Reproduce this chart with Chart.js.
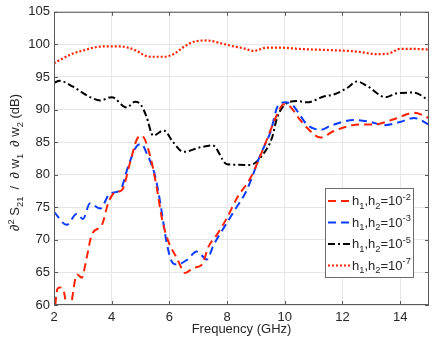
<!DOCTYPE html>
<html>
<head>
<meta charset="utf-8">
<script src="https://cdn.jsdelivr.net/npm/chart.js@4.4.1/dist/chart.umd.min.js"></script>
<style>
  html, body { margin: 0; padding: 0; background: #fff; }
  #wrap { width: 436px; height: 337px; }
</style>
</head>
<body>
<div id="wrap"><canvas id="sensChart" width="436" height="337"></canvas></div>
<script>
// tick values
const xTicks = [2, 4, 6, 8, 10, 12, 14];
const yTicks = [60, 65, 70, 75, 80, 85, 90, 95, 100, 105];

// h1,h2 = 1e-2 (red dashed)
const freqA = [2, 2.12, 2.2, 2.32, 2.5, 2.8, 2.96, 3.13, 3.31, 3.66, 3.89, 4.12, 4.35, 4.64, 4.87, 5.04, 5.33, 5.57, 5.74, 5.97, 6.26, 6.55, 6.84, 7.13, 7.36, 7.65, 8.0, 8.34, 8.8, 9.09, 9.38, 9.73, 9.96, 10.2, 10.48, 10.77, 11.24, 11.7, 12.16, 12.63, 13.09, 13.78, 14.48, 15];
const valsA = [58, 62.5, 62.7, 62.4, 58.5, 64.7, 64.2, 67.2, 70.8, 72.3, 75.8, 77.3, 77.6, 81.9, 85.4, 86.0, 82.9, 77.8, 73.3, 69.7, 67.2, 64.9, 65.7, 66.2, 69.0, 70.8, 73.4, 76.4, 79.4, 82.2, 85.4, 89.2, 90.8, 90.4, 88.7, 87.2, 85.7, 86.7, 87.4, 87.7, 87.7, 88.5, 89.5, 88.7];

// h1,h2 = 1e-3 (blue dashed)
const freqB = [2, 2.44, 2.79, 3.0, 3.25, 3.6, 3.94, 4.29, 4.58, 4.87, 5.04, 5.2, 5.5, 5.68, 5.9, 6.08, 6.26, 6.6, 6.95, 7.3, 7.53, 7.88, 8.23, 8.7, 9.15, 9.5, 9.79, 10.02, 10.25, 10.43, 10.77, 11.24, 11.58, 11.93, 12.39, 12.97, 13.43, 14.0, 14.48, 15];
const valsB = [74.3, 72.3, 74.0, 73.2, 75.6, 74.8, 77.1, 77.6, 81.4, 84.4, 84.7, 83.4, 79.9, 75.8, 69.7, 66.7, 66.2, 66.9, 68.2, 67.0, 69.2, 71.8, 74.3, 77.8, 83.0, 86.5, 90.8, 91.1, 90.8, 89.8, 87.7, 86.9, 87.5, 88.0, 88.4, 88.1, 87.6, 88.1, 88.7, 87.7];

// h1,h2 = 1e-5 (black dash-dot)
const freqC = [2, 2.2, 2.66, 3.25, 3.6, 4.0, 4.52, 4.81, 5.0, 5.2, 5.44, 5.8, 6.13, 6.48, 7.07, 7.5, 8.0, 8.8, 9.26, 9.56, 9.73, 10.02, 10.43, 10.77, 11.35, 11.7, 12.16, 12.5, 12.86, 13.5, 13.9, 14.47, 15];
const valsC = [94.1, 94.4, 93.5, 91.9, 91.4, 91.9, 90.3, 91.2, 90.8, 89.0, 86.0, 86.8, 85.0, 83.5, 84.2, 84.5, 81.6, 81.5, 83.2, 85.7, 88.7, 90.8, 91.3, 91.1, 92.0, 92.3, 93.3, 94.3, 93.6, 91.9, 92.5, 92.6, 91.4];

// h1,h2 = 1e-7 (red dotted)
const freqD = [2, 2.2, 2.66, 3.13, 3.48, 4.0, 4.3, 4.64, 4.87, 5.1, 5.33, 5.8, 6.14, 6.49, 6.84, 7.3, 7.76, 8.22, 8.57, 8.92, 9.38, 9.85, 10.5, 11.7, 12.5, 13.2, 13.6, 14.0, 14.5, 15];
const valsD = [97.1, 97.6, 98.6, 99.2, 99.6, 99.7, 99.7, 99.4, 99.0, 98.4, 98.1, 98.1, 98.5, 99.6, 100.4, 100.6, 100.2, 99.7, 99.4, 99.0, 99.5, 99.5, 99.3, 99.1, 98.9, 98.5, 98.6, 99.3, 99.3, 99.2];

const legendExps = ['-2', '-3', '-5', '-7'];

const FONT = "'Liberation Sans', Arial, Helvetica, sans-serif";
const TXT = '#262626';

function pts(xs, ys) {
    return xs.map((x, i) => ({ x: x, y: ys[i] }));
}

// draw text with sub/superscript segments
function richText(ctx, segs, x, y, size, align) {
    const small = size * 0.72;
    let w = 0;
    segs.forEach(s => {
        ctx.font = (s[1] === 'n' ? size : small) + 'px ' + FONT;
        w += ctx.measureText(s[0]).width;
    });
    let cx = align === 'center' ? x - w / 2 : x;
    ctx.textAlign = 'left';
    ctx.textBaseline = 'alphabetic';
    segs.forEach(s => {
        let dy = 0;
        if (s[1] === 'n') {
            ctx.font = size + 'px ' + FONT;
        } else {
            ctx.font = small + 'px ' + FONT;
            dy = s[1] === 'sub' ? size * 0.3 : -size * 0.42;
        }
        ctx.fillText(s[0], cx, y + dy);
        cx += ctx.measureText(s[0]).width;
    });
}

const framePlugin = {
    id: 'frame',
    afterDraw(chart) {
        const ctx = chart.ctx;
        const a = chart.chartArea;
        const xs = chart.scales.x, ys = chart.scales.y;
        ctx.save();
        // box
        ctx.strokeStyle = '#5a5a5a';
        ctx.lineWidth = 1;
        ctx.setLineDash([]);
        ctx.strokeRect(a.left + 0.5, a.top + 0.5, a.right - a.left - 1, a.bottom - a.top - 1);
        // inward ticks
        ctx.beginPath();
        xTicks.forEach(v => {
            const px = Math.round(xs.getPixelForValue(v)) + 0.5;
            ctx.moveTo(px, a.bottom); ctx.lineTo(px, a.bottom - 4);
            ctx.moveTo(px, a.top); ctx.lineTo(px, a.top + 4);
        });
        yTicks.forEach(v => {
            const py = Math.round(ys.getPixelForValue(v)) + 0.5;
            ctx.moveTo(a.left, py); ctx.lineTo(a.left + 4, py);
            ctx.moveTo(a.right, py); ctx.lineTo(a.right - 4, py);
        });
        ctx.stroke();

        // y axis title
        ctx.fillStyle = TXT;
        ctx.save();
        ctx.translate(19, (a.top + a.bottom) / 2 + 4);
        ctx.rotate(-Math.PI / 2);
        richText(ctx, [['\u2202', 'n'], ['2', 'sup'], [' S', 'n'], ['21', 'sub'], ['  /  \u2202 w', 'n'], ['1', 'sub'], ['  \u2202 w', 'n'], ['2', 'sub'], [' (dB)', 'n']], 0, 0, 13, 'center');
        ctx.restore();

        // x axis title
        ctx.font = '13px ' + FONT;
        ctx.textAlign = 'center';
        ctx.textBaseline = 'alphabetic';
        ctx.fillText('Frequency (GHz)', (a.left + a.right) / 2, 333);

        // legend
        const lx = 325, ly = 188, lw = 88, lh = 89;
        ctx.fillStyle = '#fff';
        ctx.fillRect(lx, ly, lw, lh);
        ctx.strokeStyle = '#6b6b6b';
        ctx.strokeRect(lx + 0.5, ly + 0.5, lw, lh);
        chart.data.datasets.forEach((ds, i) => {
            const rowY = ly + 13 + i * 21.5;
            ctx.strokeStyle = ds.borderColor;
            ctx.lineWidth = ds.borderWidth;
            ctx.setLineDash(ds.borderDash);
            ctx.beginPath();
            ctx.moveTo(lx + 3, rowY);
            ctx.lineTo(lx + 26, rowY);
            ctx.stroke();
            ctx.setLineDash([]);
            ctx.fillStyle = TXT;
            richText(ctx, [['h', 'n'], ['1', 'sub'], [',h', 'n'], ['2', 'sub'], ['=10', 'n'], [legendExps[i], 'sup']], lx + 27, rowY + 4, 13, 'left');
        });
        ctx.restore();
    }
};

const ctx = document.getElementById('sensChart').getContext('2d');

const baseLine = { fill: false, pointRadius: 0, cubicInterpolationMode: 'monotone', borderCapStyle: 'butt' };

new Chart(ctx, {
    type: 'line',
    data: {
        datasets: [
            Object.assign({ label: 'h1,h2=10^-2', data: pts(freqA, valsA), borderColor: '#ff2200', borderWidth: 2, borderDash: [8, 5] }, baseLine),
            Object.assign({ label: 'h1,h2=10^-3', data: pts(freqB, valsB), borderColor: '#0a3cff', borderWidth: 2, borderDash: [8, 5] }, baseLine),
            Object.assign({ label: 'h1,h2=10^-5', data: pts(freqC, valsC), borderColor: '#000000', borderWidth: 2, borderDash: [7, 3, 2, 3] }, baseLine),
            Object.assign({ label: 'h1,h2=10^-7', data: pts(freqD, valsD), borderColor: '#ff2200', borderWidth: 2.2, borderDash: [2, 2] }, baseLine)
        ]
    },
    options: {
        responsive: false,
        animation: false,
        events: [],
        layout: { padding: { left: 0, right: 7, top: 8, bottom: 0 } },
        plugins: {
            legend: { display: false },
            tooltip: { enabled: false }
        },
        scales: {
            x: {
                type: 'linear',
                min: 2,
                max: 15,
                afterBuildTicks: s => { s.ticks = xTicks.map(v => ({ value: v })); },
                afterFit: s => { s.height = 32; },
                grid: { color: '#e6e6e6', drawTicks: false },
                border: { display: false },
                ticks: { autoSkip: false, maxRotation: 0, padding: 5, color: TXT, font: { family: FONT, size: 13 } }
            },
            y: {
                min: 60,
                max: 105,
                afterBuildTicks: s => { s.ticks = yTicks.map(v => ({ value: v })); },
                afterFit: s => { s.width = 54; },
                grid: { color: '#e6e6e6', drawTicks: false },
                border: { display: false },
                ticks: { autoSkip: false, padding: 4, color: TXT, font: { family: FONT, size: 13 } }
            }
        }
    },
    plugins: [framePlugin]
});
</script>
</body>
</html>
